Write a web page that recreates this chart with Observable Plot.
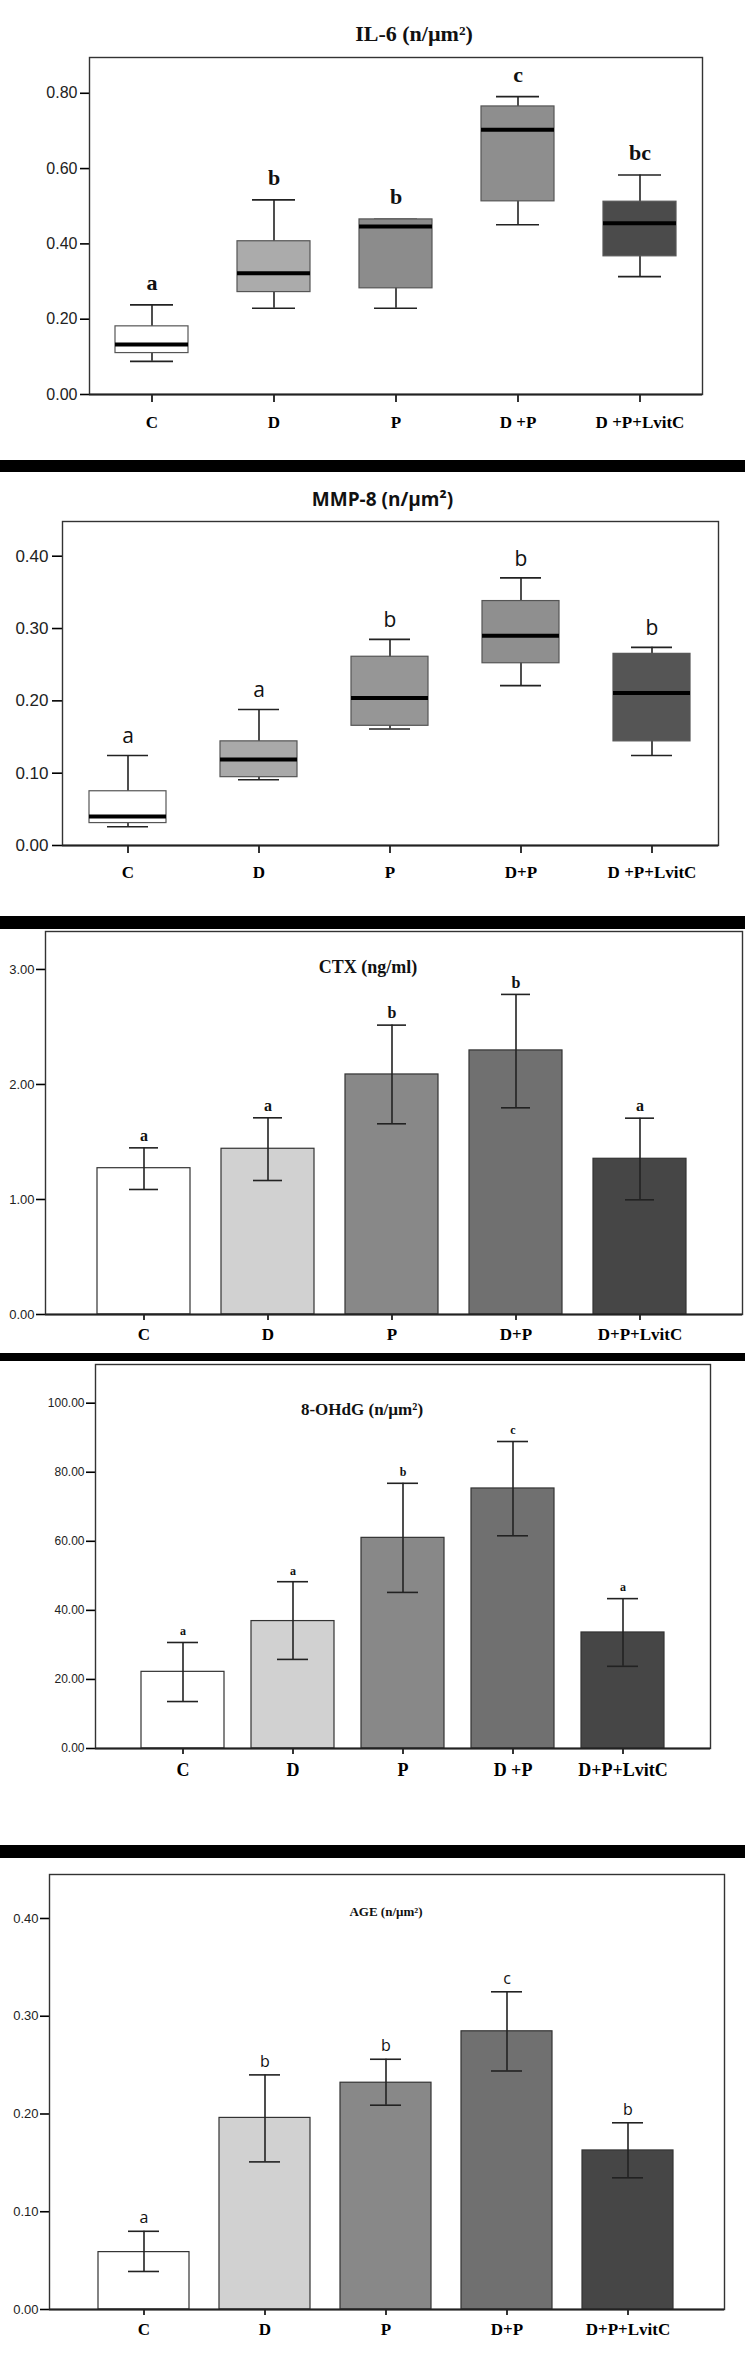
<!DOCTYPE html>
<html><head><meta charset="utf-8">
<script src="https://cdn.jsdelivr.net/npm/d3@7"></script>
<script src="https://cdn.jsdelivr.net/npm/@observablehq/plot@0.6"></script>
<style>
body{margin:0;background:#fff;}
#page{position:relative;width:745px;height:2353px;overflow:hidden;background:#fff;}
.sep{position:absolute;left:0;width:745px;background:#000;}
.panel{position:absolute;left:0;}
</style></head><body><div id="page"></div>
<script>
// ---- data ----
const groups = ["C", "D", "P", "D+P", "D+P+LvitC"];

// IL-6 box plot (n/µm²)
const il6Low  = [0.088, 0.229, 0.229, 0.451, 0.313];
const il6Q1   = [0.110, 0.272, 0.282, 0.513, 0.367];
const il6Med  = [0.133, 0.322, 0.446, 0.703, 0.455];
const il6Q3   = [0.181, 0.407, 0.465, 0.765, 0.512];
const il6High = [0.238, 0.517, 0.465, 0.791, 0.583];
const il6Letters = ["a", "b", "b", "c", "bc"];
const il6Labels = ["C", "D", "P", "D +P", "D +P+LvitC"];
const il6Ticks = [0, 0.2, 0.4, 0.6, 0.8];
const il6Fill = ["#ffffff", "#ababab", "#8c8c8c", "#8e8e8e", "#4b4b4b"];

// MMP-8 box plot (n/µm²)
const mmpLow  = [0.026, 0.091, 0.161, 0.221, 0.1245];
const mmpQ1   = [0.031, 0.0945, 0.1655, 0.252, 0.144];
const mmpMed  = [0.040, 0.119, 0.204, 0.290, 0.211];
const mmpQ3   = [0.075, 0.144, 0.261, 0.338, 0.265];
const mmpHigh = [0.1245, 0.188, 0.285, 0.370, 0.274];
const mmpLetters = ["a", "a", "b", "b", "b"];
const mmpLabels = ["C", "D", "P", "D+P", "D +P+LvitC"];
const mmpTicks = [0, 0.1, 0.2, 0.3, 0.4];
const mmpFill = ["#ffffff", "#a9a9a9", "#969696", "#8f8f8f", "#555555"];

// CTX bar chart (ng/ml)
const ctxMean = [1.272, 1.441, 2.087, 2.296, 1.354];
const ctxLo   = [1.087, 1.165, 1.658, 1.797, 0.997];
const ctxHi   = [1.449, 1.710, 2.516, 2.783, 1.707];
const ctxLetters = ["a", "a", "b", "b", "a"];
const ctxLabels = ["C", "D", "P", "D+P", "D+P+LvitC"];
const ctxTicks = [0, 1, 2, 3];

// 8-OHdG bar chart (n/µm²)
const ohdgMean = [22.2, 36.9, 61.0, 75.3, 33.6];
const ohdgLo   = [13.6, 25.8, 45.2, 61.6, 23.8];
const ohdgHi   = [30.7, 48.3, 76.8, 88.9, 43.4];
const ohdgLetters = ["a", "a", "b", "c", "a"];
const ohdgLabels = ["C", "D", "P", "D +P", "D+P+LvitC"];
const ohdgTicks = [0, 20, 40, 60, 80, 100];

// AGE bar chart (n/µm²)
const ageMean = [0.0587, 0.196, 0.232, 0.2846, 0.1627];
const ageLo   = [0.0389, 0.151, 0.209, 0.244, 0.1347];
const ageHi   = [0.080, 0.240, 0.256, 0.325, 0.191];
const ageLetters = ["a", "b", "b", "c", "b"];
const ageLabels = ["C", "D", "P", "D+P", "D+P+LvitC"];
const ageTicks = [0, 0.1, 0.2, 0.3, 0.4];

const barFill = ["#ffffff", "#d1d1d1", "#888888", "#707070", "#464646"];

// ---- layout ----
const page = document.getElementById("page");
function sep(top, h) {
  const d = document.createElement("div");
  d.className = "sep"; d.style.top = top + "px"; d.style.height = h + "px";
  page.appendChild(d);
}
sep(460, 12); sep(916, 13); sep(1353, 8); sep(1845, 13);

const SERIF = "'Liberation Serif', 'Times New Roman', serif";
const SANS = "'Liberation Sans', Arial, sans-serif";
const CAL = "'Open Sans', 'Noto Sans', sans-serif";

function place(svg, top) {
  const d = document.createElement("div");
  d.className = "panel"; d.style.top = top + "px";
  d.appendChild(svg);
  page.appendChild(d);
}

function base(p) {
  return {
    width: 745, height: p.height,
    marginTop: p.mt, marginBottom: p.mb, marginLeft: p.ml, marginRight: p.mr,
    style: {background: "transparent", color: "#000", overflow: "visible", fontFamily: SANS},
    x: {type: "band", domain: groups, range: p.xRange, paddingInner: p.pi, paddingOuter: p.po, label: null},
    y: {domain: p.yDomain, label: null},
    color: {domain: groups, range: p.fills}
  };
}

function axes(p) {
  const lab = new Map(groups.map((g, i) => [g, p.labels[i]]));
  return [
    Plot.axisY({ticks: p.ticks, tickFormat: d3.format(".2f"), tickSize: p.ytSize, tickPadding: p.ytPad,
      fontSize: p.ytFont, fontFamily: SANS, fill: "#222", strokeWidth: 1.6, label: null}),
    Plot.axisX({tickSize: p.xtSize, tickPadding: p.xtPad, fontSize: p.xFont, fontFamily: SERIF,
      fontWeight: "bold", tickFormat: d => lab.get(d), strokeWidth: 1.6, label: null}),
    Plot.frame({stroke: "#333", strokeWidth: 1.4}),
    Plot.ruleY([0], {stroke: "#222", strokeWidth: 2}),
    Plot.text([p.title], {frameAnchor: "top", dx: p.tdx, dy: p.tdy, fontSize: p.tFont,
      fontFamily: p.tFamily, fontWeight: "bold", fill: "#111"})
  ];
}

function boxPanel(p) {
  const rows = groups.map((g, i) => ({g, low: p.low[i], q1: p.q1[i], med: p.med[i], q3: p.q3[i], high: p.high[i], letter: p.letters[i]}));
  return Plot.plot({
    ...base(p),
    marks: [
      Plot.ruleX(rows, {x: "g", y1: "low", y2: "high", stroke: "#222", strokeWidth: 1.6}),
      Plot.tickY(rows, {x: "g", y: "low", insetLeft: p.capInset, insetRight: p.capInset, stroke: "#222", strokeWidth: 1.6}),
      Plot.tickY(rows, {x: "g", y: "high", insetLeft: p.capInset, insetRight: p.capInset, stroke: "#222", strokeWidth: 1.6}),
      Plot.barY(rows, {x: "g", y1: "q1", y2: "q3", fill: "g", stroke: "#555", strokeWidth: 1.2}),
      Plot.tickY(rows, {x: "g", y: "med", stroke: "#000", strokeWidth: 4}),
      Plot.text(rows, {x: "g", y: "high", text: "letter", dy: -p.letterOff, fontSize: p.lFont,
        fontFamily: p.lFamily, fontWeight: p.lWeight, fill: "#111"}),
      ...axes(p)
    ]
  });
}

function barPanel(p) {
  const rows = groups.map((g, i) => ({g, mean: p.mean[i], lo: p.lo[i], hi: p.hi[i], letter: p.letters[i]}));
  return Plot.plot({
    ...base(p),
    marks: [
      Plot.barY(rows, {x: "g", y: "mean", fill: "g", stroke: "#333", strokeWidth: 1.2}),
      Plot.ruleX(rows, {x: "g", y1: "lo", y2: "hi", stroke: "#222", strokeWidth: 1.6}),
      Plot.tickY(rows, {x: "g", y: "lo", insetLeft: p.capInset, insetRight: p.capInset, stroke: "#222", strokeWidth: 1.6}),
      Plot.tickY(rows, {x: "g", y: "hi", insetLeft: p.capInset, insetRight: p.capInset, stroke: "#222", strokeWidth: 1.6}),
      Plot.text(rows, {x: "g", y: "hi", text: "letter", dy: -p.letterOff, fontSize: p.lFont,
        fontFamily: p.lFamily, fontWeight: p.lWeight, fill: "#111"}),
      ...axes(p)
    ]
  });
}

// Panel 1: IL-6
place(boxPanel({
  height: 460, mt: 57, mb: 66, ml: 89, mr: 43,
  xRange: [89, 702], pi: 0.4, po: 0.2, yDomain: [0, 0.895], fills: il6Fill,
  low: il6Low, q1: il6Q1, med: il6Med, q3: il6Q3, high: il6High, letters: il6Letters,
  labels: il6Labels, ticks: il6Ticks, capInset: 15,
  ytSize: 9, ytPad: 3, ytFont: 16, xtSize: 8, xtPad: 13, xFont: 17,
  letterOff: 22, lFont: 22, lFamily: SERIF, lWeight: "bold",
  title: "IL-6 (n/µm²)", tdx: 18, tdy: -32, tFont: 22, tFamily: SERIF
}), 0);

// Panel 2: MMP-8
place(boxPanel({
  height: 444, mt: 49, mb: 71, ml: 62, mr: 27,
  xRange: [62, 718], pi: 0.41, po: 0.205, yDomain: [0, 0.448], fills: mmpFill,
  low: mmpLow, q1: mmpQ1, med: mmpMed, q3: mmpQ3, high: mmpHigh, letters: mmpLetters,
  labels: mmpLabels, ticks: mmpTicks, capInset: 18,
  ytSize: 10, ytPad: 4, ytFont: 17, xtSize: 8, xtPad: 12, xFont: 17,
  letterOff: 19, lFont: 21, lFamily: CAL, lWeight: "normal",
  title: "MMP-8 (n/µm²)", tdx: -8, tdy: -29, tFont: 19, tFamily: CAL
}), 472);

// Panel 3: CTX
place(barPanel({
  height: 424, mt: 2, mb: 39, ml: 45, mr: 3,
  xRange: [79.1, 703.5], pi: 0.25, po: 0.125, yDomain: [0, 3.33], fills: barFill,
  mean: ctxMean, lo: ctxLo, hi: ctxHi, letters: ctxLetters,
  labels: ctxLabels, ticks: ctxTicks, capInset: 32,
  ytSize: 9, ytPad: 2, ytFont: 13, xtSize: 6, xtPad: 7, xFont: 17,
  letterOff: 12, lFont: 16, lFamily: SERIF, lWeight: "bold",
  title: "CTX (ng/ml)", tdx: -26, tdy: 29, tFont: 18, tFamily: SERIF
}), 929);

// Panel 4: 8-OHdG
place(barPanel({
  height: 484, mt: 3, mb: 97, ml: 95, mr: 35,
  xRange: [125.6, 679.6], pi: 0.25, po: 0.125, yDomain: [0, 111.2], fills: barFill,
  mean: ohdgMean, lo: ohdgLo, hi: ohdgHi, letters: ohdgLetters,
  labels: ohdgLabels, ticks: ohdgTicks, capInset: 26,
  ytSize: 9, ytPad: 2, ytFont: 12, xtSize: 6, xtPad: 9, xFont: 18,
  letterOff: 11, lFont: 12, lFamily: SERIF, lWeight: "bold",
  title: "8-OHdG (n/µm²)", tdx: -41, tdy: 38, tFont: 17, tFamily: SERIF
}), 1361);

// Panel 5: AGE
place(barPanel({
  height: 495, mt: 16, mb: 44, ml: 49, mr: 21,
  xRange: [81.7, 689.8], pi: 0.25, po: 0.125, yDomain: [0, 0.445], fills: barFill,
  mean: ageMean, lo: ageLo, hi: ageHi, letters: ageLetters,
  labels: ageLabels, ticks: ageTicks, capInset: 30,
  ytSize: 9, ytPad: 2, ytFont: 13, xtSize: 6, xtPad: 7, xFont: 17,
  letterOff: 13, lFont: 16, lFamily: CAL, lWeight: "normal",
  title: "AGE (n/µm²)", tdx: -1, tdy: 32, tFont: 13, tFamily: SERIF
}), 1858);
</script>
</body></html>
